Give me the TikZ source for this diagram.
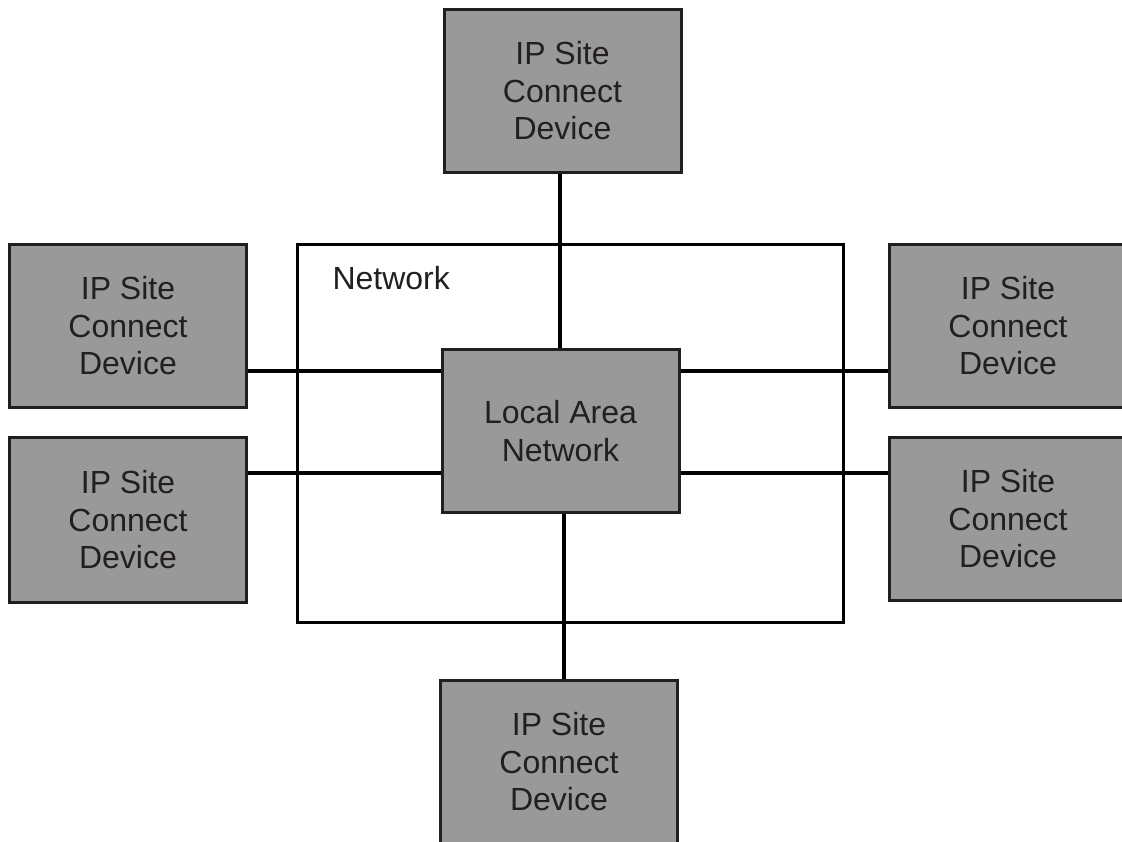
\documentclass[tikz,border=0pt]{standalone}
\usepackage{fontspec}
\setmainfont{Liberation Sans}
\definecolor{boxfill}{HTML}{999999}
\definecolor{ink}{HTML}{231F20}
\begin{document}
\begin{tikzpicture}[x=1pt,y=-1pt,
  dev/.style={draw=ink, line width=3pt, fill=boxfill, minimum width=237pt, minimum height=163pt,
    inner sep=0pt, align=center, text=ink, font=\fontsize{32}{37.5}\selectfont},
  wire/.style={line width=3.5pt, black},
  netbox/.style={draw=black, line width=3pt}]
\useasboundingbox (0,0) rectangle (1122,842);
\draw[netbox] (297,245) rectangle (843,622);
\node[anchor=west, text=ink, font=\fontsize{32}{37.5}\selectfont] (netlbl) at (329,278) {Network};
\node[dev] (lan) at (560.5,431) {Local Area\\Network};
\node[dev] (top) at (562.5,91) {IP Site\\Connect\\Device};
\node[dev] (lt) at (128,326) {IP Site\\Connect\\Device};
\node[dev, minimum height=165pt] (lb) at (128,520) {IP Site\\Connect\\Device};
\node[dev] (rt) at (1008,326) {IP Site\\Connect\\Device};
\node[dev] (rb) at (1008,519) {IP Site\\Connect\\Device};
\node[dev] (bot) at (559,762) {IP Site\\Connect\\Device};
\draw[wire] (top.south -| 560,0) -- (lan.north -| 560,0);
\draw[wire] (lan.south -| 564,0) -- (bot.north -| 564,0);
\draw[wire] (lt.east |- 0,371) -- (lan.west |- 0,371);
\draw[wire] (lb.east |- 0,473) -- (lan.west |- 0,473);
\draw[wire] (lan.east |- 0,371) -- (rt.west |- 0,371);
\draw[wire] (lan.east |- 0,473) -- (rb.west |- 0,473);
\end{tikzpicture}
\end{document}
